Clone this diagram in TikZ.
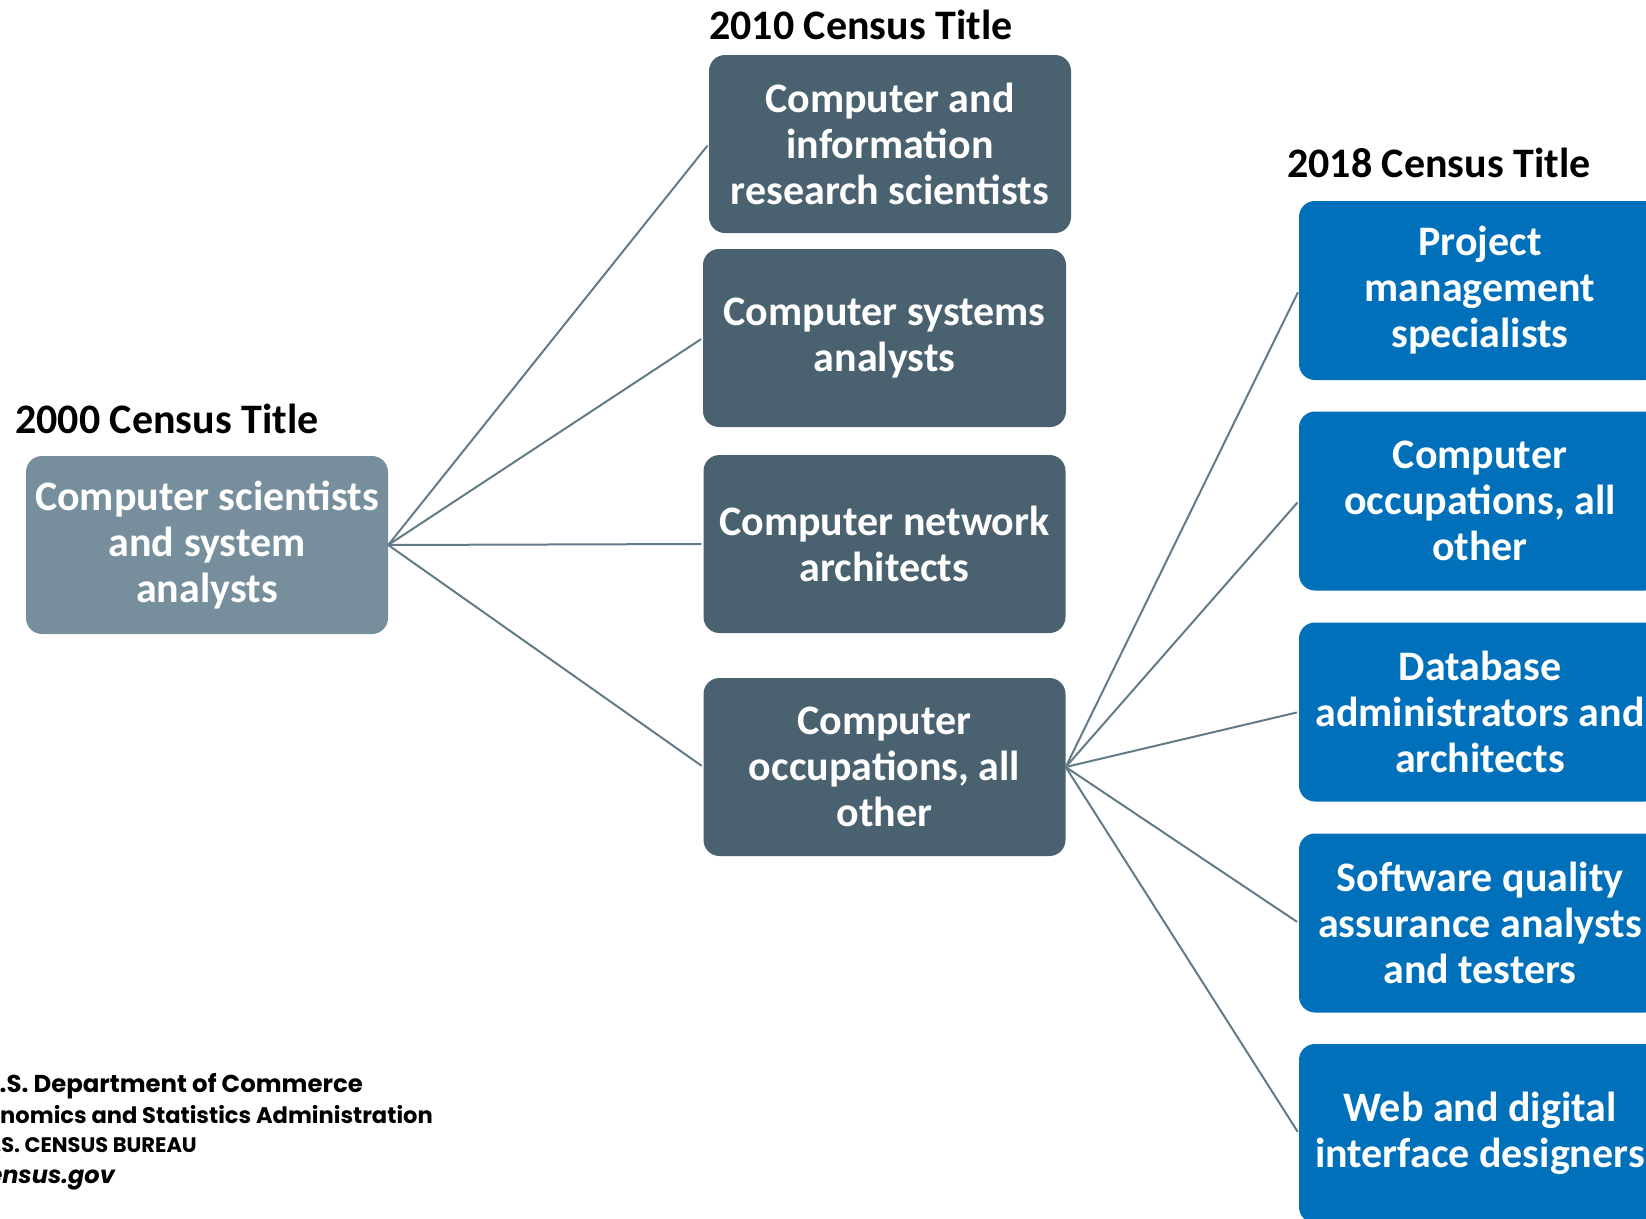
\documentclass[tikz,border=0pt]{standalone}
\usepackage{fontspec}
\setmainfont{Carlito}
\newfontfamily\footfont{Poppins}
\definecolor{oldbox}{HTML}{778F9C}
\definecolor{midbox}{HTML}{4A6270}
\definecolor{newbox}{HTML}{0070BA}
\definecolor{linkc}{HTML}{637B87}
\tikzset{
  box/.style={rounded corners=16pt, inner sep=0pt, minimum width=362pt, minimum height=178pt,
    align=center, text=white, font=\fontsize{42}{46}\selectfont\bfseries},
  oldstyle/.style={box, fill=oldbox},
  midstyle/.style={box, fill=midbox},
  newstyle/.style={box, fill=newbox, minimum height=179pt},
  heading/.style={anchor=base west, inner sep=0pt, font=\fontsize{42}{47}\selectfont\bfseries},
  link/.style={draw=linkc, line width=2pt, shorten >=2pt},
  foot/.style={anchor=base east, inner sep=0pt}
}
\begin{document}
\begin{tikzpicture}[x=1pt,y=-1pt]
\useasboundingbox (0,0) rectangle (1646,1218);

\node[heading] (h2000) at (15,433) {2000 Census Title};
\node[heading] (h2010) at (709,39) {2010 Census Title};
\node[heading] (h2018) at (1287,177) {2018 Census Title};

\node[oldstyle] (a) at (207,545) {\raisebox{-2pt}{\parbox{362pt}{\centering Computer scientists\\and system\\analysts}}};

\node[midstyle] (b1) at (890,144) {Computer and\\information\\research scientists};
\node[midstyle] (b2) at (884.5,338) {\raisebox{-3pt}{\parbox{363pt}{\centering Computer systems\\analysts}}};
\node[midstyle] (b3) at (884.5,544) {Computer network\\architects};
\node[midstyle] (b4) at (884.5,767) {Computer\\occupations, all\\other};

\node[newstyle] (c1) at (1480,290.5) {Project\\management\\specialists};
\node[newstyle] (c2) at (1480,501) {Computer\\occupations, all\\other};
\node[newstyle] (c3) at (1480,712) {Database\\administrators and\\architects};
\node[newstyle] (c4) at (1480,923) {Software quality\\assurance analysts\\and testers};
\node[newstyle] (c5) at (1480,1133.5) {Web and digital\\interface designers};

\foreach \t in {b1,b2,b3,b4} \draw[link] (a.east) -- (\t.west);
\foreach \t in {c1,c2,c3,c4,c5} \draw[link] (b4.east) -- (\t.west);

\node[foot, font=\footfont\fontsize{24.4}{28}\selectfont\bfseries] (f1) at (363,1092) {U.S. Department of Commerce};
\node[foot, font=\footfont\fontsize{22.6}{27}\selectfont\bfseries] (f2) at (433,1123) {Economics and Statistics Administration};
\node[foot, font=\footfont\fontsize{21}{25}\selectfont\bfseries] (f3) at (197,1152) {U.S. CENSUS BUREAU};
\node[foot, font=\footfont\fontsize{24}{28}\selectfont\bfseries\itshape] (f4) at (115,1183) {census.gov};
\end{tikzpicture}
\end{document}
